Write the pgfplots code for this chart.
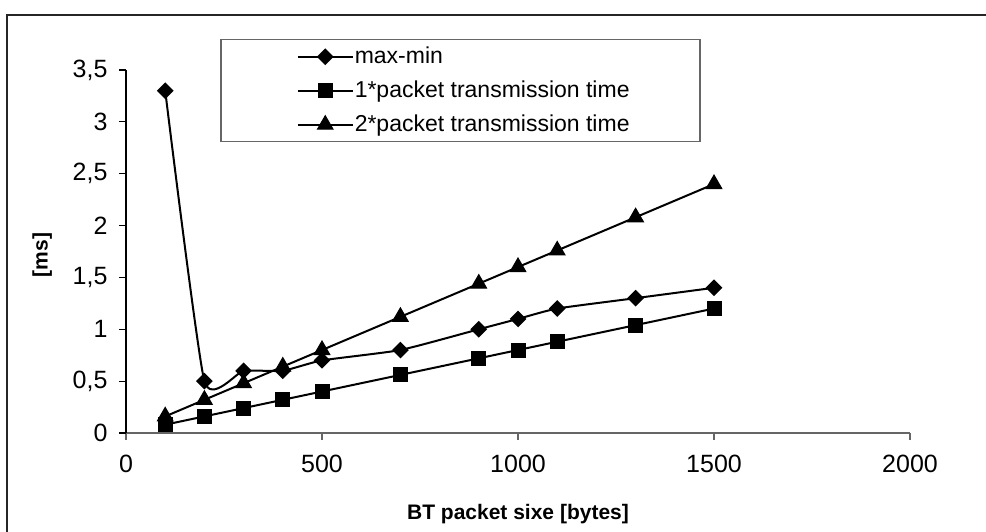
\documentclass[border=0pt]{standalone}
\usepackage{fontspec}
\setmainfont{Liberation Sans}
\usepackage{pgfplots}
\usepackage{pgfplotstable}
\pgfplotsset{compat=1.18}
\pgfplotstableread{
x     maxmin  one    two
100   3.3     0.08   0.16
200   0.5     0.16   0.32
300   0.6     0.24   0.48
400   0.6     0.32   0.64
500   0.7     0.40   0.80
700   0.8     0.56   1.12
900   1.0     0.72   1.44
1000  1.1     0.80   1.60
1100  1.2     0.88   1.76
1300  1.3     1.04   2.08
1500  1.4     1.20   2.40
}\datatable
\begin{document}
\begin{tikzpicture}[x=1bp,y=1bp]
\useasboundingbox (0,0) rectangle (986,532);
\begin{scope}
\clip (0,0) rectangle (986,532);
\draw[line width=2bp, black!85] (7,-20) rectangle (1000,517);
\end{scope}
\begin{axis}[
  at={(126bp,99bp)}, anchor=south west,
  scale only axis, width=784bp, height=363bp,
  xmin=0, xmax=2000, ymin=0, ymax=3.5,
  axis x line*=bottom, axis y line*=left,
  x axis line style={-, draw=black!60, line width=1.5bp},
  y axis line style={-, draw=black, line width=1.5bp},
  xtick={0,500,1000,1500,2000},
  ytick={0,0.5,1,1.5,2,2.5,3,3.5},
  tick align=outside, major tick length=7bp,
  x tick style={black!60, line width=1.2bp},
  y tick style={black, line width=1.2bp},
  /pgf/number format/assume math mode=true,
  /pgf/number format/use comma,
  /pgf/number format/1000 sep={},
  ticklabel style={font=\fontsize{25bp}{29bp}\selectfont},
  xticklabel style={yshift=-12bp},
  yticklabel style={xshift=-8bp},
  xlabel={\textbf{BT packet sixe [bytes]}},
  ylabel={\textbf{[ms]}},
  label style={font=\fontsize{21bp}{25bp}\selectfont},
  xlabel style={at={(axis description cs:0.5,-0.2231)}, anchor=center},
  ylabel style={at={(axis description cs:-0.107,0.490)}, anchor=center, rotate=0},
  legend style={at={(axis description cs:0.1199,1.0854)}, anchor=north west,
    draw=black!60, line width=1.5bp, inner xsep=0pt, inner ysep=0pt,
    row sep=0pt, column sep=1bp,
    font=\fontsize{23bp}{27bp}\selectfont,
    nodes={inner sep=0pt, text height=24bp, text depth=10bp}},
  legend cell align=left,
  legend image code/.code={
    \path[draw=none, fill=none] (0bp,0bp) -- (77bp,0bp);
    \draw[mark repeat=2,mark phase=2,#1] plot coordinates {(77bp,0bp) (104.5bp,0bp) (132bp,0bp)};
  },
  every axis plot/.append style={black, line width=2bp, mark options={solid, line width=1bp}},
]
\addplot[smooth, tension=0.3, mark=square*, mark size=4.9bp, mark options={rotate=45}] table[x=x, y=maxmin] {\datatable};
\addlegendentry{\makebox[345bp][l]{max-min}}
\addplot[mark=square*, mark size=7bp] table[x=x, y=one] {\datatable};
\addlegendentry{\makebox[345bp][l]{1*packet transmission time}}
\addplot[mark=triangle*, mark size=9bp] table[x=x, y=two] {\datatable};
\addlegendentry{\makebox[345bp][l]{2*packet transmission time}}
\end{axis}
\end{tikzpicture}
\end{document}
